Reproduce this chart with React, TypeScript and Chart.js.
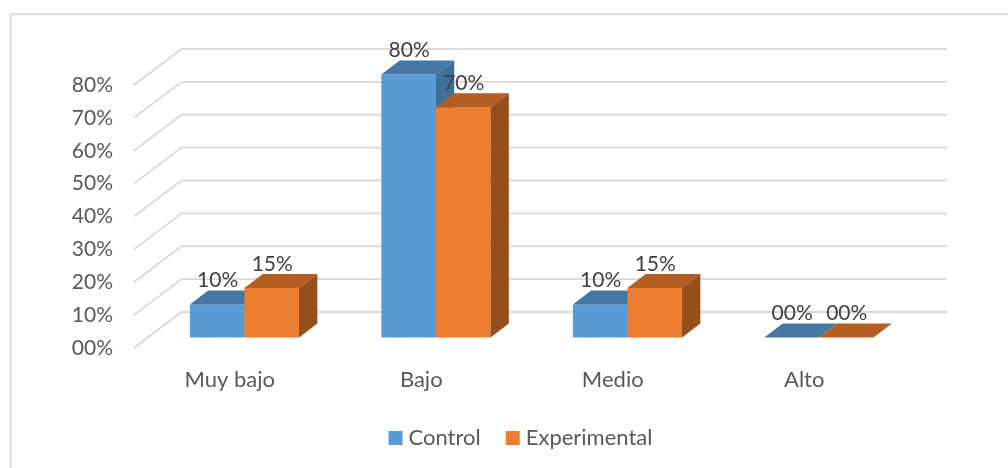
import React, { useEffect, useRef } from "react";
import { Chart, registerables } from "chart.js";

Chart.register(...registerables);

const categories = ["Muy bajo", "Bajo", "Medio", "Alto"];
const controlValues = [10, 80, 10, 0];
const experimentalValues = [15, 70, 15, 0];
const seriesNames = ["Control", "Experimental"];
const frontColors = ["#5B9BD5", "#ED7D31"];
const topColors = ["#4676A2", "#B55E22"];
const sideColors = ["#3F6E98", "#954F1D"];

const FONT = "Lato, sans-serif";
const FONT_SIZE = 21;
const TEXT_SIZE = 22;
const GRID = "#D9D9D9";
const FLOOR_DX = 47.5;
const FLOOR_DY = 36;
const BACK_RIGHT = 947;
const BAR_SHIFT_X = 14.7;
const BAR_SHIFT_Y = -10.6;
const DEPTH_X = 18.3;
const DEPTH_Y = 14;

const fmt = (v: number) => String(v).padStart(2, "0") + "%";

const frame3d = {
  id: "frame3d",
  afterLayout(chart: any) {
    const l = chart.legend;
    const h = l.bottom - l.top;
    l.left += 73;
    l.right += 73;
    l.top = 397;
    l.bottom = 397 + h;
  },
  beforeDraw(chart: any) {
    const c = chart.ctx;
    c.save();
    c.fillStyle = "#fff";
    c.fillRect(0, 0, chart.width, chart.height);
    c.strokeStyle = "#DADADA";
    c.lineWidth = 2;
    c.beginPath();
    c.moveTo(10.8, 468);
    c.lineTo(10.8, 14.3);
    c.lineTo(1008, 14.3);
    c.stroke();
    c.restore();
  },
  beforeDatasetsDraw(chart: any) {
    const c = chart.ctx;
    const y = chart.scales.y;
    const left = chart.chartArea.left;
    c.save();
    c.strokeStyle = GRID;
    c.lineWidth = 1.8;
    y.ticks.forEach((t: any) => {
      const py = y.getPixelForValue(t.value);
      c.beginPath();
      c.moveTo(left, py);
      c.lineTo(left + FLOOR_DX, py - FLOOR_DY);
      c.lineTo(BACK_RIGHT, py - FLOOR_DY);
      c.stroke();
    });
    c.restore();
  },
  beforeDatasetDraw() {
    return false;
  },
  afterDatasetsDraw(chart: any) {
    const c = chart.ctx;
    chart.data.datasets.forEach((_: any, i: number) => {
      const meta = chart.getDatasetMeta(i);
      c.save();
      c.translate(BAR_SHIFT_X, BAR_SHIFT_Y);
      meta.controller.draw();
      meta.data.forEach((el: any) => {
        const { x, y, base, width } = el.getProps(["x", "y", "base", "width"], true);
        const l = x - width / 2;
        const r = x + width / 2;
        c.fillStyle = topColors[i];
        c.beginPath();
        c.moveTo(l, y);
        c.lineTo(l + DEPTH_X, y - DEPTH_Y);
        c.lineTo(r + DEPTH_X, y - DEPTH_Y);
        c.lineTo(r, y);
        c.closePath();
        c.fill();
        if (base - y > 0.5) {
          c.fillStyle = sideColors[i];
          c.beginPath();
          c.moveTo(r, y);
          c.lineTo(r + DEPTH_X, y - DEPTH_Y);
          c.lineTo(r + DEPTH_X, base - DEPTH_Y);
          c.lineTo(r, base);
          c.closePath();
          c.fill();
        }
      });
      c.restore();
    });
    c.save();
    c.font = `${FONT_SIZE}px ${FONT}`;
    c.fillStyle = "#404040";
    c.textAlign = "center";
    c.textBaseline = "middle";
    chart.data.datasets.forEach((ds: any, i: number) => {
      chart.getDatasetMeta(i).data.forEach((el: any, j: number) => {
        const { x, y } = el.getProps(["x", "y"], true);
        c.fillText(fmt(ds.data[j]), x + BAR_SHIFT_X + 0.5, y + BAR_SHIFT_Y - 24);
      });
    });
    c.restore();
  },
};

export default function App() {
  const ref = useRef<HTMLCanvasElement>(null);
  useEffect(() => {
    const chart = new Chart(ref.current as HTMLCanvasElement, {
      type: "bar",
      data: {
        labels: categories,
        datasets: [
          { label: seriesNames[0], data: controlValues, backgroundColor: frontColors[0], clip: false },
          { label: seriesNames[1], data: experimentalValues, backgroundColor: frontColors[1], clip: false },
        ],
      } as any,
      plugins: [frame3d as any],
      options: {
        responsive: false,
        animation: false,
        layout: { padding: { left: 0, right: 108, top: 85, bottom: 0 } },
        datasets: { bar: { categoryPercentage: 0.57, barPercentage: 1 } },
        font: { family: FONT, size: FONT_SIZE },
        scales: {
          x: {
            grid: { display: false, drawTicks: false },
            border: { display: false },
            ticks: { color: "#595959", font: { family: FONT, size: TEXT_SIZE }, padding: 19, maxRotation: 0 },
            afterFit(s: any) {
              s.height = 120 - (s.chart.legend ? s.chart.legend.height : 0);
            },
          },
          y: {
            min: 0,
            max: 80,
            grid: { display: false, drawTicks: false },
            border: { display: false },
            ticks: {
              stepSize: 10,
              color: "#595959",
              font: { family: FONT, size: FONT_SIZE },
              padding: 21,
              callback: (v: any) => fmt(Number(v)),
            },
            afterFit(s: any) {
              s.width = 134;
            },
          },
        },
        plugins: {
          tooltip: { enabled: false },
          legend: {
            position: "bottom",
            labels: {
              color: "#595959",
              font: { family: FONT, size: TEXT_SIZE },
              usePointStyle: true,
              pointStyle: "rect",
              boxWidth: 4,
              boxHeight: 14,
              padding: 30,
            },
          },
        },
      } as any,
    });
    return () => chart.destroy();
  }, []);
  return (
    <div style={{ position: "fixed", left: 0, top: 0, width: 1008, height: 468, background: "#fff" }}>
      <canvas ref={ref} width={1008} height={468} style={{ display: "block" }} />
    </div>
  );
}
